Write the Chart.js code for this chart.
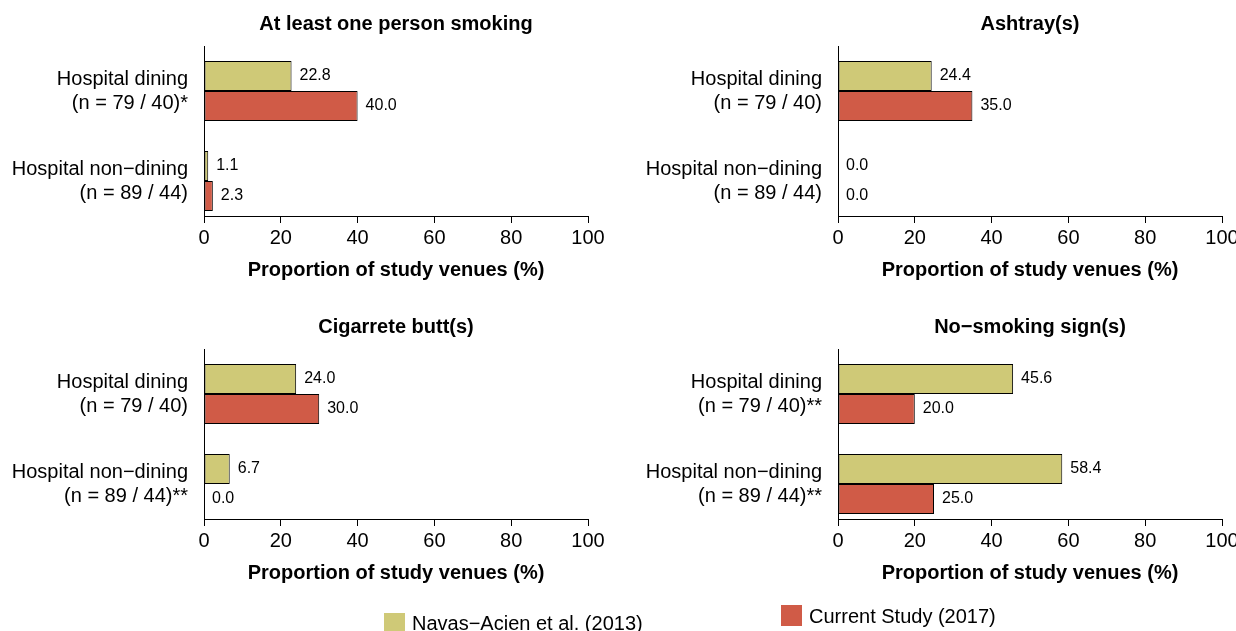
<!DOCTYPE html>
<html>
<head>
<meta charset="utf-8">
<script src="https://cdn.jsdelivr.net/npm/chart.js@4.4.1/dist/chart.umd.min.js"></script>
<style>
  html, body { margin: 0; padding: 0; background: #fff; }
  body { width: 1236px; height: 631px; overflow: hidden; position: relative;
         font-family: "Liberation Sans", Arial, Helvetica, sans-serif; }
  canvas { position: absolute; }
  .key { position: absolute; width: 21px; height: 21px; }
  .keytext { position: absolute; font-size: 20px; line-height: 24px; color: #000; white-space: nowrap; }
</style>
</head>
<body>
<canvas id="c1" width="618" height="303" style="left:0;top:0"></canvas>
<canvas id="c2" width="618" height="303" style="left:618px;top:0"></canvas>
<canvas id="c3" width="618" height="303" style="left:0;top:303px"></canvas>
<canvas id="c4" width="618" height="303" style="left:618px;top:303px"></canvas>

<div class="key" style="left:384px;top:613px;background:#CFC977"></div>
<div class="keytext" style="left:412px;top:611px">Navas−Acien et al. (2013)</div>
<div class="key" style="left:781px;top:605px;background:#D05B47"></div>
<div class="keytext" style="left:809px;top:604px">Current Study (2017)</div>

<script>
// === DATA ===
const seriesNames = ['Navas−Acien et al. (2013)', 'Current Study (2017)'];
const seriesColors = ['#CFC977', '#D05B47'];
const xTicks = [0, 20, 40, 60, 80, 100];

const panelTitles = ['At least one person smoking', 'Ashtray(s)', 'Cigarrete butt(s)', 'No−smoking sign(s)'];

// category labels per panel (dining, non-dining)
const labelsSmoking = [['Hospital dining', '(n = 79 / 40)*'], ['Hospital non−dining', '(n = 89 / 44)']];
const labelsAshtray = [['Hospital dining', '(n = 79 / 40)'], ['Hospital non−dining', '(n = 89 / 44)']];
const labelsButts   = [['Hospital dining', '(n = 79 / 40)'], ['Hospital non−dining', '(n = 89 / 44)**']];
const labelsSign    = [['Hospital dining', '(n = 79 / 40)**'], ['Hospital non−dining', '(n = 89 / 44)**']];

// values (%) : [dining, non-dining]
const navasSmoking = [22.8, 1.1];
const currentSmoking = [40.0, 2.3];
const navasAshtray = [24.4, 0.0];
const currentAshtray = [35.0, 0.0];
const navasButts = [24.0, 6.7];
const currentButts = [30.0, 0.0];
const navasSign = [45.6, 58.4];
const currentSign = [20.0, 25.0];

const FONT = '"Liberation Sans", Arial, Helvetica, sans-serif';

// angka di ujung batang
const valueLabels = {
    id: 'valueLabels',
    afterDatasetsDraw(chart) {
        const ctx = chart.ctx;
        ctx.save();
        ctx.font = '16px ' + FONT;
        ctx.fillStyle = '#000';
        ctx.textAlign = 'left';
        ctx.textBaseline = 'middle';
        chart.data.datasets.forEach((ds, di) => {
            chart.getDatasetMeta(di).data.forEach((bar, i) => {
                ctx.fillText(ds.data[i].x.toFixed(1), bar.x + 8, bar.y);
            });
        });
        ctx.restore();
    }
};

function makePanel(canvasId, title, cats, navas, current, isRight) {
    const yLeft = isRight ? 220 : 204;
    const padRight = isRight ? 14 : 30;
    const datasets = [navas, current].map((vals, s) => ({
        label: seriesNames[s],
        data: vals.map((v, i) => ({ x: v, y: i + 0.5 })),
        backgroundColor: seriesColors[s],
        borderColor: '#000',
        borderWidth: 1,
        borderSkipped: false,
        categoryPercentage: 2 / 3,
        barPercentage: 1.0
    }));

    return new Chart(document.getElementById(canvasId), {
        type: 'bar',
        data: { datasets: datasets },
        plugins: [valueLabels],
        options: {
            indexAxis: 'y',
            responsive: false,
            animation: false,
            layout: { padding: { left: 0, right: padRight, top: 0, bottom: 17 } },
            plugins: {
                legend: { display: false },
                tooltip: { enabled: false },
                title: {
                    display: true,
                    text: title,
                    fullSize: false,
                    color: '#000',
                    font: { family: FONT, size: 20, weight: 'bold', lineHeight: 1.2 },
                    padding: { top: 12, bottom: 10 }
                }
            },
            scales: {
                x: {
                    type: 'linear',
                    min: 0,
                    max: 100,
                    afterBuildTicks: (scale) => { scale.ticks = xTicks.map(v => ({ value: v })); },
                    afterFit: (scale) => { scale.height = 70; scale.paddingLeft = 0; scale.paddingRight = 0; },
                    grid: { display: true, drawOnChartArea: false, drawTicks: true, tickLength: 7, color: '#000', lineWidth: 1 },
                    border: { display: true, color: '#000', width: 1 },
                    ticks: { color: '#000', padding: 3, maxRotation: 0, font: { family: FONT, size: 20, lineHeight: 1.2 } },
                    title: {
                        display: true,
                        text: 'Proportion of study venues (%)',
                        color: '#000',
                        font: { family: FONT, size: 20, weight: 'bold', lineHeight: 1.2 },
                        padding: { top: 0, bottom: 4 }
                    }
                },
                y: {
                    type: 'linear',
                    reverse: true,
                    offset: false,
                    min: 0,
                    max: 17 / 9,
                    afterBuildTicks: (scale) => { scale.ticks = cats.map((c, i) => ({ value: i + 0.5 })); },
                    afterFit: (scale) => { scale.width = yLeft; scale.paddingTop = 0; scale.paddingBottom = 0; },
                    grid: { display: false, drawTicks: false, offset: false },
                    border: { display: true, color: '#000', width: 1 },
                    ticks: {
                        color: '#000',
                        padding: 16,
                        font: { family: FONT, size: 20, lineHeight: 1.2 },
                        callback: (value) => cats[Math.round(value - 0.5)]
                    }
                }
            }
        }
    });
}

makePanel('c1', panelTitles[0], labelsSmoking, navasSmoking, currentSmoking, false);
makePanel('c2', panelTitles[1], labelsAshtray, navasAshtray, currentAshtray, true);
makePanel('c3', panelTitles[2], labelsButts, navasButts, currentButts, false);
makePanel('c4', panelTitles[3], labelsSign, navasSign, currentSign, true);
</script>
</body>
</html>
